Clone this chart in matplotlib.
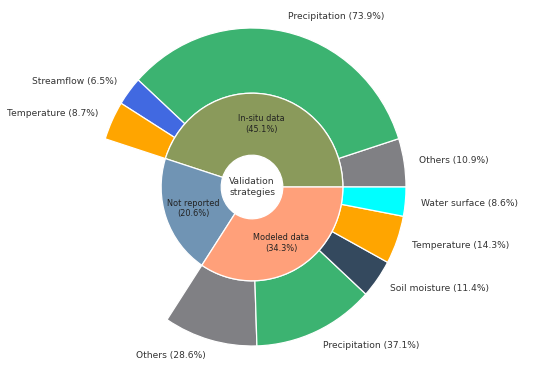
import matplotlib.pyplot as plt
import numpy as np

# inner ring: validation strategy shares (%)
inner_names = ["In-situ data", "Not reported", "Modeled data"]
inner_vals = [45.1, 20.6, 34.3]
inner_colors = ["#8a9a5b", "#7094b4", "#ffa07a"]

# outer ring: breakdown (%) within each parent
insitu_names = ["Others", "Precipitation", "Streamflow", "Temperature"]
insitu_vals = [10.9, 73.9, 6.5, 8.7]
insitu_colors = ["#808084", "#3cb371", "#4169e1", "#ffa500"]

modeled_names = ["Others", "Precipitation", "Soil moisture", "Temperature", "Water surface"]
modeled_vals = [28.6, 37.1, 11.4, 14.3, 8.6]
modeled_colors = ["#808084", "#3cb371", "#34495e", "#ffa500", "#00ffff"]

# outer wedges in share of the whole, with an empty gap for "Not reported"
outer_vals = ([inner_vals[0] * v / 100 for v in insitu_vals] + [inner_vals[1]]
              + [inner_vals[2] * v / 100 for v in modeled_vals])
outer_labels = ([f"{n} ({v}%)" for n, v in zip(insitu_names, insitu_vals)] + [""]
                + [f"{n} ({v}%)" for n, v in zip(modeled_names, modeled_vals)])
outer_colors = insitu_colors + ["none"] + modeled_colors

fig = plt.figure(figsize=(5.5, 3.66), dpi=100)
ax = fig.add_axes([0, 0, 1, 1])

wedges, texts = ax.pie(outer_vals, labels=outer_labels, colors=outer_colors,
                       radius=1.0, startangle=0, counterclock=True, labeldistance=1.1,
                       wedgeprops=dict(width=0.41, edgecolor="white", linewidth=0.9),
                       textprops=dict(fontsize=6.6, color="#333333"))
gap = wedges[len(insitu_vals)]
gap.set_edgecolor("none")
gap.set_facecolor("none")

inner_labels = [f"{n}\n({v}%)" for n, v in zip(inner_names, inner_vals)]
w2, t2, a2 = ax.pie(inner_vals, colors=inner_colors, radius=0.59, startangle=0,
                    counterclock=True, autopct="%1.1f%%", pctdistance=0.68,
                    wedgeprops=dict(width=0.39, edgecolor="white", linewidth=0.9),
                    textprops=dict(fontsize=5.9, color="#222222"))
for a, lab in zip(a2, inner_labels):
    a.set_text(lab)
    a.set_ha("center")
    a.set_va("center")

ax.text(0, 0, "Validation\nstrategies", ha="center", va="center",
        fontsize=6.6, color="#333333")

# place the pie in the figure like the reference
ax.set_aspect("auto")
ax.set_xlim(-252 / 154, 298 / 154)
ax.set_ylim(-179 / 159, 187 / 159)
ax.axis("off")

fig.savefig("out.png", dpi=100)
